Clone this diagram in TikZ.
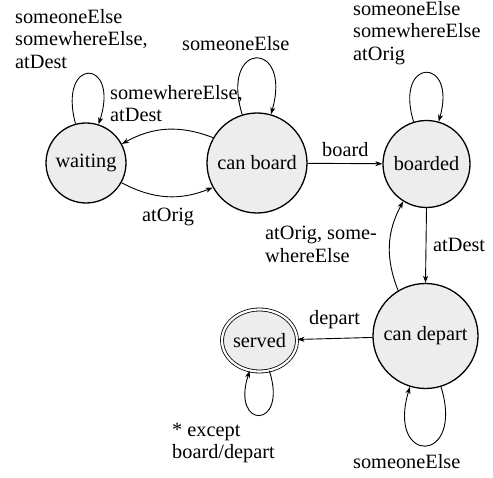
\documentclass[tikz,border=0pt]{standalone}
\usepackage{fontspec}
\setmainfont{Liberation Serif}
\usetikzlibrary{arrows.meta,shapes.geometric}
\begin{document}
\begin{tikzpicture}[x=1pt,y=-1pt,
  every node/.style={font=\fontsize{20.3}{22.5}\selectfont},
  state/.style={circle,draw,line width=1.3pt,fill=black!7,inner sep=0pt},
  lbl/.style={inner sep=0pt,anchor=north west,align=left},
  edge/.style={draw,line width=0.9pt,-{Stealth[length=7pt,width=5pt,inset=2pt]}}]
\useasboundingbox (0,0) rectangle (493,478);
\node[state,minimum size=80pt] (w) at (86,163) {waiting};
\node[state,minimum size=100pt] (cb) at (257,163) {can board};
\node[state,minimum size=87pt] (bd) at (426.5,164) {boarded};
\node[state,minimum size=105pt] (cd) at (425.5,336) {can depart};
\node[ellipse,draw,line width=0.8pt,double,double distance=2.2pt,fill=black!7,inner sep=0pt,
      minimum width=72pt,minimum height=62pt] (sv) at (259.5,340.5) {served};

\path[edge] (w.105) .. controls +(-105:70) and +(-72:70) .. (w.72);
\path[edge] (cb.150) to[bend right=25] (w.28);
\path[edge] (w.-29) to[bend right=25] (cb.209);
\path[edge] (cb.107) .. controls +(-107:78) and +(-74:78) .. (cb.74);
\path[edge] (cb) -- (bd);
\path[edge] (bd.107) .. controls +(-107:68) and +(-74:68) .. (bd.74);
\path[edge] (bd.south) -- (cd.north);
\path[edge] (cd.121) to[bend left=25] (bd.238);
\path[edge] (cd) -- (sv);
\path[edge] (cd.-73) .. controls +(73:82) and +(107:82) .. (cd.-107);
\path[edge] (sv.-72) .. controls +(72:62) and +(108:62) .. (sv.-108);

\node[lbl] (l1) at (15,9) {someoneElse\\somewhereElse,\\atDest};
\node[lbl] (l2) at (110,85) {somewhereElse,\\atDest};
\node[lbl] (l3) at (182,36) {someoneElse};
\node[lbl] (l4) at (322,142) {board};
\node[lbl] (l5) at (353,1) {someoneElse\\somewhereElse\\atOrig};
\node[lbl] (l6) at (142,208) {atOrig};
\node[lbl] (l7) at (265,226) {atOrig, some-\\whereElse};
\node[lbl] (l8) at (433,238) {atDest};
\node[lbl] (l9) at (309,310) {depart};
\node[lbl] (l10) at (172,423) {* except\\board/depart};
\node[lbl] (l11) at (353,454) {someoneElse};
\end{tikzpicture}
\end{document}
